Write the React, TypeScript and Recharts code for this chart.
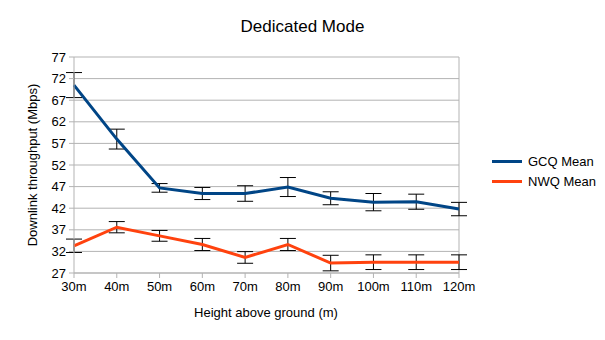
import React from "react";
import {
  LineChart,
  Line,
  XAxis,
  YAxis,
  CartesianGrid,
  ErrorBar,
  ReferenceLine,
} from "recharts";

const heights = ["30m", "40m", "50m", "60m", "70m", "80m", "90m", "100m", "110m", "120m"];
const gcqMean = [70.5, 58.0, 46.7, 45.4, 45.4, 46.9, 44.3, 43.4, 43.5, 41.8];
const gcqErr = [2.9, 2.3, 1.0, 1.4, 1.8, 2.2, 1.5, 2.0, 1.75, 1.55];
const nwqMean = [33.3, 37.6, 35.6, 33.6, 30.6, 33.6, 29.3, 29.5, 29.5, 29.5];
const nwqErr = [1.55, 1.3, 1.25, 1.4, 1.35, 1.4, 1.8, 1.7, 1.7, 1.7];
const yTicks = [27, 32, 37, 42, 47, 52, 57, 62, 67, 72, 77];

const GCQ_COLOR = "#004586";
const NWQ_COLOR = "#ff420e";
const AXIS_COLOR = "#b3b3b3";
const FONT = "'Liberation Sans', Arial, sans-serif";

const data = heights.map((h, i) => ({
  height: h,
  gcq: gcqMean[i],
  gcqErr: gcqErr[i],
  nwq: nwqMean[i],
  nwqErr: nwqErr[i],
}));

const legendItems = [
  { name: "GCQ Mean", color: GCQ_COLOR },
  { name: "NWQ Mean", color: NWQ_COLOR },
];

export default function App() {
  return (
    <div
      style={{
        position: "absolute",
        top: 0,
        left: 0,
        width: 605,
        height: 340,
        background: "#fff",
        fontFamily: FONT,
        color: "#000",
      }}
    >
      <div
        style={{
          position: "absolute",
          top: 17,
          left: 0,
          width: 605,
          textAlign: "center",
          fontSize: 17,
        }}
      >
        Dedicated Mode
      </div>

      <LineChart
        width={605}
        height={340}
        data={data}
        margin={{ top: 57, right: 146, bottom: 37, left: 24 }}
      >
        <CartesianGrid vertical={false} stroke={AXIS_COLOR} />
        <XAxis
          dataKey="height"
          height={30}
          stroke={AXIS_COLOR}
          tickSize={5}
          tickMargin={4}
          tick={{ fill: "#000", fontSize: 13, fontFamily: FONT }}
          interval={0}
        />
        <YAxis
          width={50}
          domain={[27, 77]}
          ticks={yTicks}
          stroke={AXIS_COLOR}
          tickSize={5}
          tickMargin={3}
          tick={{ fill: "#000", fontSize: 13, fontFamily: FONT }}
          interval={0}
        />
        <ReferenceLine x="120m" stroke={AXIS_COLOR} />
        <Line
          type="linear"
          dataKey="gcq"
          stroke={GCQ_COLOR}
          strokeWidth={3}
          dot={false}
          isAnimationActive={false}
        >
          <ErrorBar dataKey="gcqErr" width={8} stroke="#000" strokeWidth={1} />
        </Line>
        <Line
          type="linear"
          dataKey="nwq"
          stroke={NWQ_COLOR}
          strokeWidth={3}
          dot={false}
          isAnimationActive={false}
        >
          <ErrorBar dataKey="nwqErr" width={8} stroke="#000" strokeWidth={1} />
        </Line>
      </LineChart>

      <div
        style={{
          position: "absolute",
          left: 32,
          top: 165,
          transform: "translate(-50%, -50%) rotate(-90deg)",
          whiteSpace: "nowrap",
          fontSize: 13,
        }}
      >
        Downlink throughput (Mbps)
      </div>

      <div
        style={{
          position: "absolute",
          top: 305,
          left: 266,
          transform: "translateX(-50%)",
          whiteSpace: "nowrap",
          fontSize: 13,
        }}
      >
        Height above ground (m)
      </div>

      <ul
        style={{
          position: "absolute",
          left: 492,
          top: 151,
          margin: 0,
          padding: 0,
          listStyle: "none",
          fontSize: 13,
        }}
      >
        {legendItems.map((item) => (
          <li
            key={item.name}
            style={{ display: "flex", alignItems: "center", height: 20 }}
          >
            <span
              style={{
                display: "inline-block",
                width: 30,
                height: 3,
                background: item.color,
                marginRight: 6,
              }}
            />
            {item.name}
          </li>
        ))}
      </ul>
    </div>
  );
}
